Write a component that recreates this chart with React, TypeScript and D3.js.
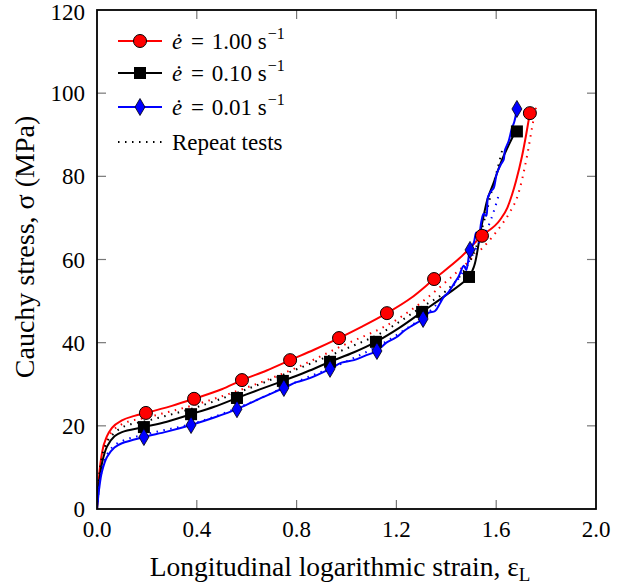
import React from "react";
import * as d3 from "d3";

// ---- Data ----
type P = [number, number];

const redLine: P[] = [
  [0, 0], [0.005, 5], [0.01, 9], [0.02, 13.5], [0.04, 17.5], [0.06, 19.5], [0.1, 21.3], [0.15, 22.4],
  [0.196, 23.1], [0.3, 24.8], [0.389, 26.5], [0.5, 28.8], [0.581, 31.0], [0.68, 33.3], [0.774, 35.8],
  [0.87, 38.3], [0.97, 41.1], [1.06, 43.8], [1.162, 47.1], [1.26, 50.8], [1.351, 55.3], [1.455, 60.4],
  [1.543, 65.7], [1.615, 69.5], [1.645, 72.5], [1.663, 75.5], [1.68, 79], [1.703, 84.7], [1.72, 90],
  [1.735, 95.2],
];
const redMarkers: P[] = [
  [0.196, 23.1], [0.389, 26.5], [0.581, 31.0], [0.774, 35.8], [0.97, 41.1], [1.162, 47.1],
  [1.351, 55.3], [1.543, 65.7], [1.735, 95.2],
];
const redRepeat: P[] = [
  [0, 0], [0.005, 4.5], [0.01, 8], [0.02, 12.5], [0.04, 16.5], [0.07, 19.2], [0.1, 20.4], [0.2, 22.0],
  [0.4, 25.2], [0.6, 29.2], [0.8, 34.0], [0.974, 39.0], [1.2, 45.5], [1.307, 50.0], [1.415, 55.5],
  [1.503, 60.3], [1.567, 64.2], [1.615, 67.8], [1.655, 71.4], [1.687, 75.5], [1.723, 84.7],
  [1.747, 92.8], [1.763, 97.6],
];

const blackLine: P[] = [
  [0, 0], [0.005, 4], [0.01, 7], [0.02, 11], [0.04, 15], [0.07, 17.5], [0.1, 18.5], [0.188, 19.7],
  [0.28, 21], [0.377, 22.8], [0.47, 24.6], [0.561, 26.7], [0.65, 28.7], [0.745, 30.8], [0.84, 33],
  [0.934, 35.4], [1.03, 37.7], [1.118, 40.2], [1.21, 43.5], [1.303, 47.4], [1.4, 51.5], [1.491, 55.8],
  [1.512, 58.5], [1.526, 62.5], [1.535, 66], [1.548, 70], [1.565, 74.5], [1.59, 78.5], [1.62, 83.5],
  [1.65, 87.5], [1.683, 91.5],
];
const blackMarkers: P[] = [
  [0.188, 19.7], [0.377, 22.8], [0.561, 26.7], [0.745, 30.8], [0.934, 35.4], [1.118, 40.2],
  [1.303, 47.4], [1.491, 55.8], [1.683, 90.8],
];
const blackRepeat: P[] = [
  [0, 0], [0.005, 5], [0.01, 8.5], [0.02, 12.5], [0.04, 16], [0.07, 18.3], [0.1, 19.6], [0.2, 21.2],
  [0.4, 24.5], [0.6, 28.8], [0.8, 33.6], [1.0, 38.6], [1.122, 41.8], [1.3, 48.5], [1.4, 52.5],
  [1.467, 57], [1.52, 63], [1.563, 71.9], [1.583, 76.7], [1.607, 82.2], [1.627, 87],
];

const blueLine: P[] = [
  [0, 0], [0.005, 3], [0.01, 5.5], [0.02, 9], [0.04, 12.5], [0.07, 14.8], [0.1, 15.8], [0.188, 17.3],
  [0.28, 18.6], [0.377, 20.2], [0.47, 22], [0.561, 24.0], [0.65, 26.5], [0.749, 29.1], [0.8, 30.5],
  [0.85, 31.4], [0.934, 33.7], [0.98, 35.2], [1.03, 35.8], [1.08, 37], [1.122, 38.0], [1.16, 40],
  [1.2, 41.3], [1.234, 43.0], [1.266, 44.2], [1.307, 45.7], [1.33, 47.2], [1.355, 47.6], [1.375, 49.5],
  [1.39, 51], [1.41, 52.2], [1.427, 53.8], [1.45, 56], [1.47, 58.5], [1.48, 57.5], [1.495, 62.3],
  [1.51, 64], [1.52, 66.5], [1.53, 65.5], [1.54, 69], [1.55, 71], [1.56, 70.5], [1.567, 75],
  [1.58, 76.5], [1.59, 77.2], [1.603, 80.8], [1.62, 83], [1.63, 84], [1.635, 86.3], [1.65, 88.5],
  [1.663, 91.6], [1.672, 93], [1.683, 96.2],
];
const blueMarkers: P[] = [
  [0.188, 17.3], [0.377, 20.2], [0.561, 24.0], [0.749, 29.1], [0.934, 33.7], [1.122, 38.0],
  [1.307, 45.7], [1.495, 62.3], [1.683, 96.2],
];
const blueRepeat: P[] = [
  [0, 0], [0.005, 3.5], [0.01, 6], [0.02, 9.5], [0.04, 13], [0.07, 15.3], [0.1, 16.3], [0.2, 18],
  [0.4, 20.8], [0.6, 25.2], [0.8, 30.6], [1.0, 35.5], [1.2, 41.8], [1.35, 48.5], [1.45, 55.5],
  [1.5, 60.5], [1.535, 64.5], [1.567, 67.8], [1.59, 71.5], [1.61, 75.5],
];

const xTicks = [0, 0.4, 0.8, 1.2, 1.6, 2.0];
const yTicks = [0, 20, 40, 60, 80, 100, 120];
const legendRates = ["1.00", "0.10", "0.01"];

// ---- Layout ----
const W = 629, H = 587;
const left = 97, right = 596, top = 10, bottom = 509;
const FONT = "Liberation Serif";

export default function App() {
  const x = d3.scaleLinear().domain([0, 2]).range([left, right]);
  const y = d3.scaleLinear().domain([0, 120]).range([bottom, top]);
  const line = d3.line<P>().x((d) => x(d[0])).y((d) => y(d[1])).curve(d3.curveMonotoneX);
  const lineC = d3.line<P>().x((d) => x(d[0])).y((d) => y(d[1])).curve(d3.curveCatmullRom.alpha(0.5));

  const tickLen = 9;
  const tickColor = "#777";

  const circle = (cx: number, cy: number, k: string) => (
    <circle key={k} cx={cx} cy={cy} r={6.5} fill="#ff0000" stroke="#000" strokeWidth={1} />
  );
  const square = (cx: number, cy: number, k: string) => (
    <rect key={k} x={cx - 6} y={cy - 6} width={12} height={12} fill="#000" />
  );
  const diamond = (cx: number, cy: number, k: string) => (
    <path key={k} d={`M${cx},${cy - 8.5}L${cx + 5},${cy}L${cx},${cy + 8.5}L${cx - 5},${cy}Z`} fill="#0000ff" stroke="#000" strokeWidth={0.8} />
  );

  const series = [
    { line: redLine, rep: redRepeat, marks: redMarkers, color: "#ff0000", marker: circle, smooth: line },
    { line: blackLine, rep: blackRepeat, marks: blackMarkers, color: "#000000", marker: square, smooth: lineC },
    { line: blueLine, rep: blueRepeat, marks: blueMarkers, color: "#0000ff", marker: diamond, smooth: lineC },
  ];

  const legendY = [41, 73, 107, 142];

  return (
    <svg width={W} height={H} style={{ position: "absolute", left: 0, top: 0, background: "#fff" }}>
      <rect x={0} y={0} width={W} height={H} fill="#fff" />
      <defs>
        <clipPath id="plot">
          <rect x={left} y={top} width={right - left} height={bottom - top} />
        </clipPath>
      </defs>
      {/* ticks */}
      {xTicks.map((t, i) => (
        <g key={"xt" + i}>
          {i > 0 && i < xTicks.length - 1 && (
            <>
              <line x1={x(t)} x2={x(t)} y1={bottom} y2={bottom - tickLen} stroke={tickColor} strokeWidth={1.2} />
              <line x1={x(t)} x2={x(t)} y1={top} y2={top + tickLen} stroke={tickColor} strokeWidth={1.2} />
            </>
          )}
          <text x={x(t)} y={bottom + 28} textAnchor="middle" fontSize={23} fontFamily={FONT}>{d3.format(".1f")(t)}</text>
        </g>
      ))}
      {yTicks.map((t, i) => (
        <g key={"yt" + i}>
          {i > 0 && i < yTicks.length - 1 && (
            <>
              <line x1={left} x2={left + tickLen} y1={y(t)} y2={y(t)} stroke={tickColor} strokeWidth={1.2} />
              <line x1={right} x2={right - tickLen} y1={y(t)} y2={y(t)} stroke={tickColor} strokeWidth={1.2} />
            </>
          )}
          <text x={left - 12} y={Math.max(y(t) + 8, 20)} textAnchor="end" fontSize={23} fontFamily={FONT}>{t}</text>
        </g>
      ))}

      {/* curves */}
      <g clipPath="url(#plot)">
        {series.map((s, i) => (
          <g key={"s" + i}>
            <path d={line(s.rep) || ""} fill="none" stroke={s.color} strokeWidth={2} strokeDasharray="1.5 5.5" />
            <path d={s.smooth(s.line) || ""} fill="none" stroke={s.color} strokeWidth={2} />
          </g>
        ))}
      </g>
      {series.map((s, i) => (
        <g key={"m" + i}>{s.marks.map((d, j) => s.marker(x(d[0]), y(d[1]), `m${i}-${j}`))}</g>
      ))}

      {/* frame */}
      <rect x={left} y={top} width={right - left} height={bottom - top} fill="none" stroke="#000" strokeWidth={1.8} />

      {/* legend */}
      {series.map((s, i) => (
        <g key={"lg" + i}>
          <line x1={118} x2={162} y1={legendY[i]} y2={legendY[i]} stroke={s.color} strokeWidth={2} />
          {s.marker(140, legendY[i], "lm" + i)}
          <text x={172} y={legendY[i] + 8} fontSize={23} fontFamily={FONT}>
            <tspan fontStyle="italic">ė</tspan>
            <tspan dx={3}> = </tspan>
            <tspan dx={2}>{legendRates[i]} s</tspan>
            <tspan dx={1} dy={-10} fontSize={16}>−1</tspan>
          </text>
        </g>
      ))}
      <line x1={118} x2={162} y1={legendY[3]} y2={legendY[3]} stroke="#000" strokeWidth={2} strokeDasharray="1.5 5.5" />
      <text x={172} y={legendY[3] + 8} fontSize={23} fontFamily={FONT}>Repeat tests</text>

      {/* axis labels */}
      <text x={340} y={576} textAnchor="middle" fontSize={27.5} fontFamily={FONT}>
        Longitudinal logarithmic strain, ε<tspan dy={5} fontSize={19}>L</tspan>
      </text>
      <text transform={`translate(34,247) rotate(-90)`} textAnchor="middle" fontSize={28} fontFamily={FONT}>
        Cauchy stress, σ (MPa)
      </text>
    </svg>
  );
}
